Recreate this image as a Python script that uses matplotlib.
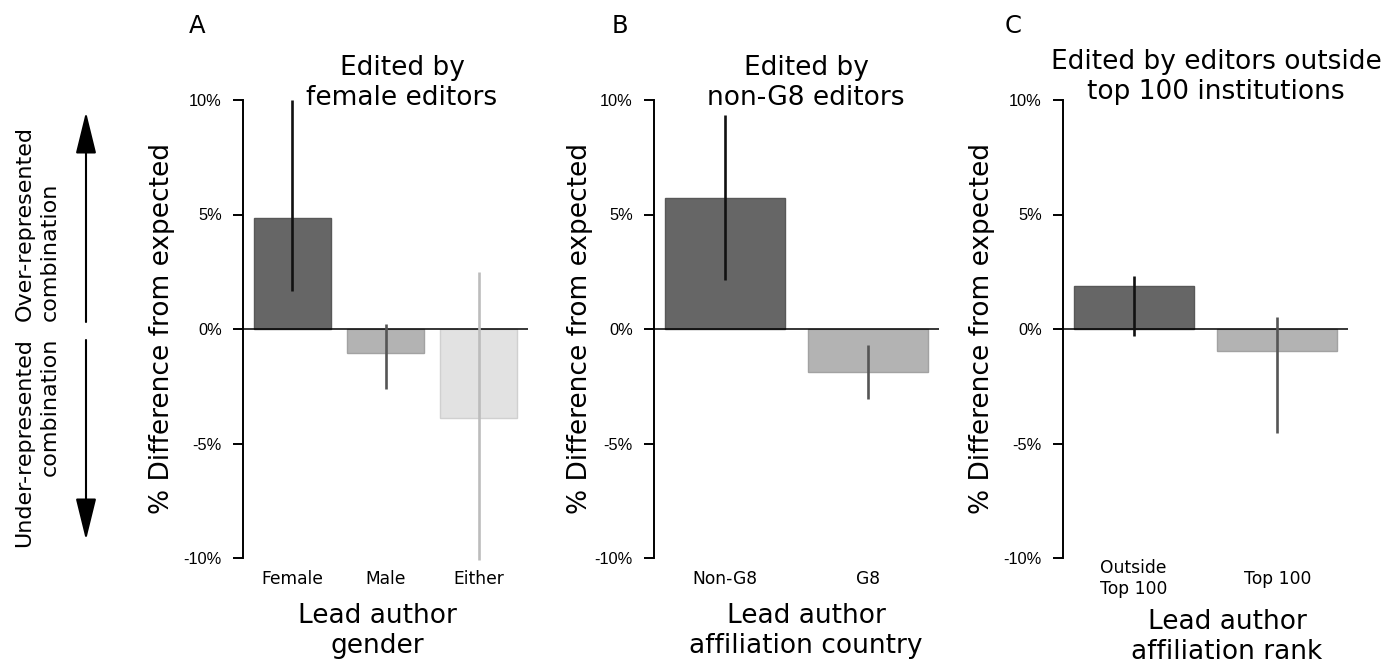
import numpy as np
import matplotlib.pyplot as plt

plt.rcParams['font.family'] = 'DejaVu Sans'

# % difference from expected, with 95% interval ends
gender_labels = ["Female", "Male", "Either"]
gender_diff = [4.84, -1.03, -3.90]
gender_low = [1.68, -2.60, -10.10]
gender_high = [10.00, 0.23, 2.51]

country_labels = ["Non-G8", "G8"]
country_diff = [5.71, -1.86]
country_low = [2.15, -3.05]
country_high = [9.35, -0.69]

rank_labels = ["Outside\nTop 100", "Top 100"]
rank_diff = [1.88, -0.96]
rank_low = [-0.31, -4.54]
rank_high = [2.31, 0.52]

bar_colors = ["#666666", "#b3b3b3", "#e2e2e2"]
edge_colors = ["#585858", "#a2a2a2", "#d0d0d0"]
err_colors = ["#111111", "#555555", "#bcbcbc"]

W, H = 1400, 666
fig = plt.figure(figsize=(W / 100, H / 100), dpi=100)


def panel(left, labels, diff, low, high, letter, title, title_bottom,
          xlabel, xlabel_top, label_x, ylab_off):
    ax = fig.add_axes([left / W, 108 / H, 285 / W, 458 / H])
    n = len(diff)
    x = 0.7 + 1.2 * np.arange(n)
    span = 1.2 * n - 0.2
    ax.bar(x, diff, width=1.0, color=bar_colors[:n], edgecolor=edge_colors[:n],
           linewidth=1.0, zorder=2)
    ax.axhline(0, color="black", lw=1.1, zorder=3)
    ax.vlines(x, low, high, colors=err_colors[:n], lw=1.9, zorder=4, clip_on=False)
    ax.set_xlim(0.2 - 0.04 * span, 1.2 * n + 0.04 * span)
    ax.set_ylim(-10, 10)

    for s in ["top", "right", "bottom"]:
        ax.spines[s].set_visible(False)
    ax.spines["left"].set_linewidth(1.4)
    ax.spines["left"].set_bounds(-10, 10)

    ax.set_yticks([-10, -5, 0, 5, 10])
    ax.set_yticklabels(["-10%", "-5%", "0%", "5%", "10%"],
                       fontfamily="Liberation Sans", fontsize=11.8)
    ax.tick_params(axis="y", length=7.2, width=1.4, pad=8)
    ax.set_xticks(x)
    ax.set_xticklabels(labels, fontsize=12.3)
    ax.tick_params(axis="x", length=0, pad=14.8)
    plt.setp(ax.get_xticklabels(), va="center", multialignment="center")

    ax.text(-ylab_off / 285, 0.5, "% Difference from expected", transform=ax.transAxes,
            rotation=90, ha="center", va="center", fontsize=19)

    cx = left + 142
    fig.text((cx + label_x[0]) / W, (H - 111 + title_bottom) / H, title, ha="center",
             va="bottom", fontsize=19, multialignment="center")
    fig.text((cx + label_x[1]) / W, (H - xlabel_top) / H, xlabel, ha="center",
             va="top", fontsize=19, multialignment="center")
    fig.text(label_x[2] / W, (H - 33) / H, letter, ha="center", va="baseline",
             fontsize=17.5)
    return ax


panel(243, gender_labels, gender_diff, gender_low, gender_high, "A",
      "Edited by\nfemale editors", 0, "Lead author\ngender", 603,
      (17, -8, 197.5), 81)
panel(654, country_labels, country_diff, country_low, country_high, "B",
      "Edited by\nnon-G8 editors", 0, "Lead author\naffiliation country", 603,
      (10, 10, 620), 74)
panel(1063, rank_labels, rank_diff, rank_low, rank_high, "C",
      "Edited by editors outside\ntop 100 institutions", 6,
      "Lead author\naffiliation rank", 609, (11, 22, 1013), 81)

# arrows and side labels
arrow_x = 86 / W
fig.add_artist(plt.matplotlib.patches.FancyArrowPatch(
    (arrow_x, (H - 322) / H), (arrow_x, (H - 112) / H), transform=fig.transFigure,
    arrowstyle="-|>,head_length=1.3,head_width=0.32", mutation_scale=20,
    color="black", lw=1.5, shrinkA=0, shrinkB=0))
fig.add_artist(plt.matplotlib.patches.FancyArrowPatch(
    (arrow_x, (H - 340) / H), (arrow_x, (H - 540) / H), transform=fig.transFigure,
    arrowstyle="-|>,head_length=1.3,head_width=0.32", mutation_scale=20,
    color="black", lw=1.5, shrinkA=0, shrinkB=0))

fig.text(37 / W, (H - 321) / H, "Over-represented\ncombination", rotation=90,
         ha="center", va="bottom", fontsize=16, multialignment="left", linespacing=1.3)
fig.text(37 / W, (H - 338) / H, "Under-represented\ncombination", rotation=90,
         ha="center", va="top", fontsize=16, multialignment="right", linespacing=1.3)

plt.savefig("out.png", dpi=100)
